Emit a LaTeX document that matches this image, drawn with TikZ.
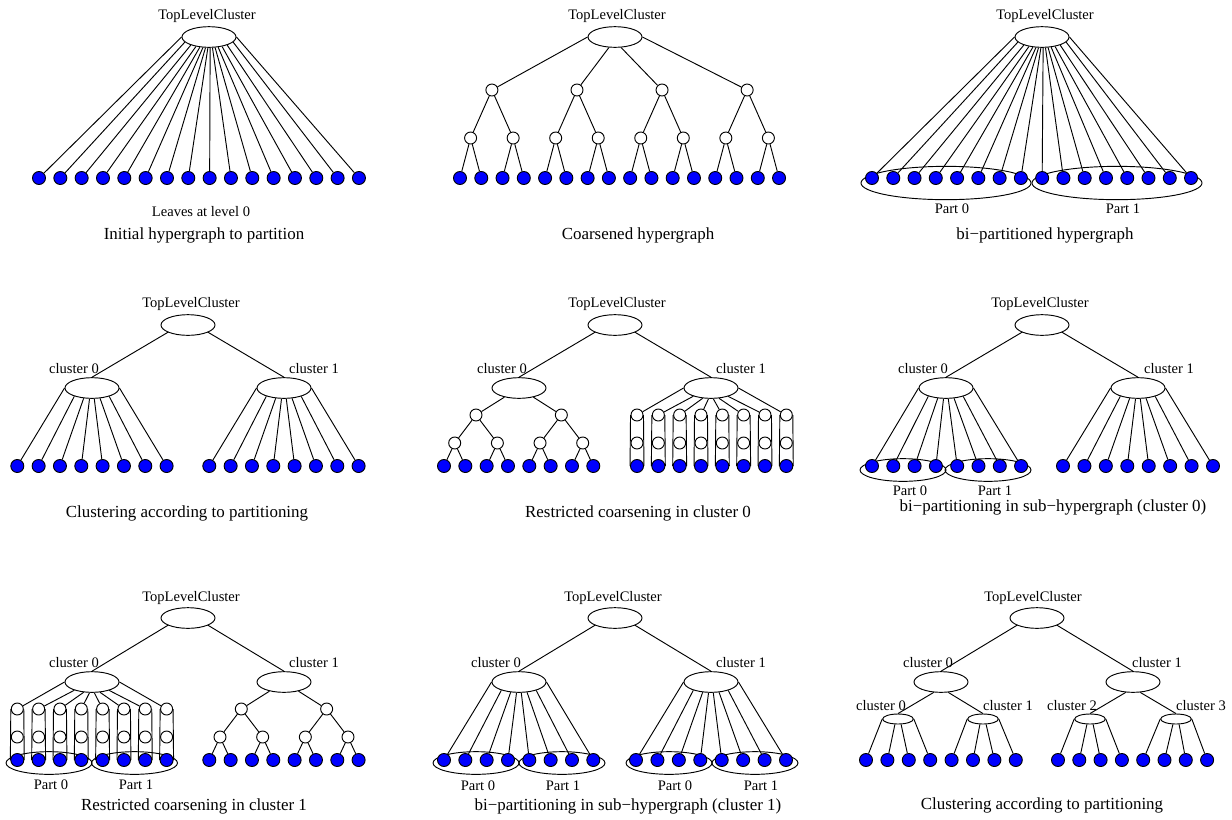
\documentclass[tikz,border=0pt]{standalone}
\usepackage{fontspec}
\setmainfont{Liberation Serif}
\usetikzlibrary{shapes.geometric}
\tikzstyle{every path}=[line width=0.7pt]
\definecolor{leafblue}{RGB}{0,0,255}
\tikzstyle{leaf}=[circle, draw, fill=leafblue, minimum size=9.75pt, inner sep=0pt]
\tikzstyle{coarse}=[circle, draw, fill=white, minimum size=9pt, inner sep=0pt]
\tikzstyle{cluster}=[ellipse, draw, minimum width=40.5pt, minimum height=15.5pt, inner sep=0pt]
\tikzstyle{subcluster}=[ellipse, draw, minimum width=23pt, minimum height=7.5pt, inner sep=0pt]
\tikzstyle{part}=[ellipse, draw, minimum width=64.5pt, minimum height=17pt, inner sep=0pt]
\tikzstyle{bigpart}=[ellipse, draw, minimum width=127.5pt, minimum height=25pt, inner sep=0pt]
\tikzstyle{lbl}=[inner sep=0pt, font=\fontsize{10.9}{12}\selectfont]
\tikzstyle{caption}=[inner sep=0pt, font=\fontsize{12.7}{14}\selectfont]

\begin{document}
\begin{tikzpicture}[x=0.75pt, y=-0.75pt]
    \useasboundingbox (0,0) rectangle (1232,819);

    % initial hypergraph
    \node[lbl] at (207,16) {TopLevelCluster};
    \node[cluster] (a) at (209,37) {};
    \foreach \i in {0,...,15} {
        \pgfmathtruncatemacro\ang{180+12*\i}
        \node[leaf] (a\i) at (39+21.33*\i,178) {};
        \draw (a.\ang) -- (a\i);
    }
    \node[lbl] at (201,212) {Leaves at level 0};
    \node[caption] at (204,235) {Initial hypergraph to partition};

    % coarsened
    \node[lbl] at (617,16) {TopLevelCluster};
    \node[cluster] (b) at (615,37) {};
    \foreach \k in {0,...,3} {
        \pgfmathtruncatemacro\ang{180+60*\k}
        \node[coarse] (bu\k) at (491.9+85.08*\k,90) {};
        \draw (b.\ang) -- (bu\k);
        \foreach \s in {0,1} {
            \pgfmathtruncatemacro\j{2*\k+\s}
            \node[coarse] (bm\j) at (470.6+42.54*\j,138) {};
            \draw (bu\k) -- (bm\j);
            \foreach \t in {0,1} {
                \pgfmathtruncatemacro\i{2*\j+\t}
                \node[leaf] (b\i) at (460+21.27*\i,178) {};
                \draw (bm\j) -- (b\i);
            }
        }
    }
    \node[caption] at (638,235) {Coarsened hypergraph};

    % bi-partitioned
    \node[lbl] at (1045,16) {TopLevelCluster};
    \node[cluster] (c) at (1042,37) {};
    \node[bigpart] (cp0) at (946,183) {};
    \node[bigpart] (cp1) at (1117,183) {};
    \foreach \i in {0,...,15} {
        \pgfmathtruncatemacro\ang{180+12*\i}
        \node[leaf] (c\i) at (872+21.27*\i,178) {};
        \draw (c.\ang) -- (c\i);
    }
    \node[lbl] at (952,209) {Part 0};
    \node[lbl] at (1123,209) {Part 1};
    \node[caption] at (1045,235) {bi−partitioned hypergraph};

    % clustering
    \node[lbl] at (191,304) {TopLevelCluster};
    \node[cluster] (d) at (188,325) {};
    \node[lbl] at (74,369) {cluster 0};
    \node[lbl] at (314,369) {cluster 1};
    \node[cluster] (d0) at (92,388) {};
    \node[cluster] (d1) at (284,388) {};
    \draw (d.200) -- (d0.north);
    \draw (d.340) -- (d1.north);
    \foreach \i in {0,...,7} {
        \pgfmathtruncatemacro\ang{180+180*\i/7}
        \node[leaf] (dl\i) at (17.3+21.33*\i,466) {};
        \node[leaf] (dr\i) at (209.3+21.33*\i,466) {};
        \draw (d0.\ang) -- (dl\i);
        \draw (d1.\ang) -- (dr\i);
    }
    \node[caption] at (187,513) {Clustering according to partitioning};

    % restricted coarsening, cluster 0
    \node[lbl] at (617,304) {TopLevelCluster};
    \node[cluster] (e) at (615,325) {};
    \node[lbl] at (502,369) {cluster 0};
    \node[lbl] at (741,369) {cluster 1};
    \node[cluster] (e0) at (519,388) {};
    \node[cluster] (e1) at (711,388) {};
    \draw (e.200) -- (e0.north);
    \draw (e.340) -- (e1.north);
    \foreach \k in {0,1} {
        \node[coarse] (eu\k) at (476+85.33*\k,415) {};
        \draw (e0) -- (eu\k);
        \foreach \s in {0,1} {
            \pgfmathtruncatemacro\j{2*\k+\s}
            \node[coarse] (em\j) at (454.7+42.67*\j,443) {};
            \draw (eu\k) -- (em\j);
            \foreach \t in {0,1} {
                \pgfmathtruncatemacro\i{2*\j+\t}
                \node[leaf] (el\i) at (444+21.33*\i,466) {};
                \draw (em\j) -- (el\i);
            }
        }
    }
    \foreach \i in {0,...,7} {
        \pgfmathtruncatemacro\ang{180+180*\i/7}
        \node[coarse] (et\i) at (637+21.33*\i,415) {};
        \node[coarse] (ec\i) at (637+21.33*\i,443) {};
        \node[leaf] (er\i) at (637+21.33*\i,466) {};
        \draw (e1.\ang) -- (et\i);
        \draw (et\i.west) -- (er\i.west) (et\i.east) -- (er\i.east);
    }
    \node[caption] at (638,513) {Restricted coarsening in cluster 0};

    % bi-partitioning, cluster 0
    \node[lbl] at (1040,304) {TopLevelCluster};
    \node[cluster] (f) at (1042,325) {};
    \node[lbl] at (923,369) {cluster 0};
    \node[lbl] at (1169,369) {cluster 1};
    \node[cluster] (f0) at (946,388) {};
    \node[cluster] (f1) at (1138,388) {};
    \draw (f.200) -- (f0.north);
    \draw (f.340) -- (f1.north);
    \node[part] (fp0) at (903,470) {};
    \node[part] (fp1) at (988,470) {};
    \foreach \i in {0,...,7} {
        \pgfmathtruncatemacro\ang{180+180*\i/7}
        \node[leaf] (fl\i) at (872+21.3*\i,466) {};
        \node[leaf] (fr\i) at (1063+21.43*\i,466) {};
        \draw (f0.\ang) -- (fl\i);
        \draw (f1.\ang) -- (fr\i);
    }
    \node[lbl] at (910,491) {Part 0};
    \node[lbl] at (995,491) {Part 1};
    \node[caption] at (1053,507) {bi−partitioning in sub−hypergraph (cluster 0)};

    % restricted coarsening, cluster 1
    \node[lbl] at (191,598) {TopLevelCluster};
    \node[cluster] (g) at (188,618) {};
    \node[lbl] at (74,663) {cluster 0};
    \node[lbl] at (314,663) {cluster 1};
    \node[cluster] (g0) at (92,682) {};
    \node[cluster] (g1) at (284,682) {};
    \draw (g.200) -- (g0.north);
    \draw (g.340) -- (g1.north);
    \node[part] (gp0) at (49,763) {};
    \node[part] (gp1) at (134.5,763) {};
    \foreach \i in {0,...,7} {
        \pgfmathtruncatemacro\ang{180+180*\i/7}
        \node[coarse] (gt\i) at (17.3+21.33*\i,709) {};
        \node[coarse] (gc\i) at (17.3+21.33*\i,737) {};
        \node[leaf] (gl\i) at (17.3+21.33*\i,760) {};
        \draw (g0.\ang) -- (gt\i);
        \draw (gt\i.west) -- (gl\i.west) (gt\i.east) -- (gl\i.east);
    }
    \foreach \k in {0,1} {
        \node[coarse] (gu\k) at (241.3+85.33*\k,709) {};
        \draw (g1) -- (gu\k);
        \foreach \s in {0,1} {
            \pgfmathtruncatemacro\j{2*\k+\s}
            \node[coarse] (gm\j) at (220+42.67*\j,737) {};
            \draw (gu\k) -- (gm\j);
            \foreach \t in {0,1} {
                \pgfmathtruncatemacro\i{2*\j+\t}
                \node[leaf] (gr\i) at (209.3+21.33*\i,760) {};
                \draw (gm\j) -- (gr\i);
            }
        }
    }
    \node[lbl] at (51,785) {Part 0};
    \node[lbl] at (136,785) {Part 1};
    \node[caption] at (194,806) {Restricted coarsening in cluster 1};

    % bi-partitioning, cluster 1
    \node[lbl] at (613,598) {TopLevelCluster};
    \node[cluster] (h) at (615,618) {};
    \node[lbl] at (496,663) {cluster 0};
    \node[lbl] at (741,663) {cluster 1};
    \node[cluster] (h0) at (519,682) {};
    \node[cluster] (h1) at (711,682) {};
    \draw (h.200) -- (h0.north);
    \draw (h.340) -- (h1.north);
    \node[part] (hp0) at (476,763) {};
    \node[part] (hp1) at (562,763) {};
    \node[part] (hp2) at (669,763) {};
    \node[part] (hp3) at (755,763) {};
    \foreach \i in {0,...,7} {
        \pgfmathtruncatemacro\ang{180+180*\i/7}
        \node[leaf] (hl\i) at (444+21.33*\i,760) {};
        \node[leaf] (hr\i) at (636+21.43*\i,760) {};
        \draw (h0.\ang) -- (hl\i);
        \draw (h1.\ang) -- (hr\i);
    }
    \node[lbl] at (478,786) {Part 0};
    \node[lbl] at (563,786) {Part 1};
    \node[lbl] at (675,786) {Part 0};
    \node[lbl] at (761,786) {Part 1};
    \node[caption] at (628,806) {bi−partitioning in sub−hypergraph (cluster 1)};

    % final clustering
    \node[lbl] at (1033,598) {TopLevelCluster};
    \node[cluster] (k) at (1037,618) {};
    \node[lbl] at (928,663) {cluster 0};
    \node[lbl] at (1157,663) {cluster 1};
    \node[cluster] (k0) at (941,682) {};
    \node[cluster] (k1) at (1133,682) {};
    \draw (k.200) -- (k0.north);
    \draw (k.340) -- (k1.north);
    \node[lbl] at (881,706) {cluster 0};
    \node[lbl] at (1008,706) {cluster 1};
    \node[lbl] at (1072,706) {cluster 2};
    \node[lbl] at (1201,706) {cluster 3};
    \node[subcluster] (ks0) at (898,719) {};
    \node[subcluster] (ks1) at (983,719) {};
    \node[subcluster] (ks2) at (1090,719) {};
    \node[subcluster] (ks3) at (1176,719) {};
    \draw (k0.235) -- (ks0.north);
    \draw (k0.305) -- (ks1.north);
    \draw (k1.235) -- (ks2.north);
    \draw (k1.305) -- (ks3.north);
    \foreach \i in {0,...,7} {
        \pgfmathtruncatemacro\p{\i/4}
        \pgfmathtruncatemacro\q{\i/4+2}
        \pgfmathtruncatemacro\ang{180+60*mod(\i,4)}
        \node[leaf] (kl\i) at (866+21.4*\i,760) {};
        \node[leaf] (kr\i) at (1058+21.3*\i,760) {};
        \draw (ks\p.\ang) -- (kl\i);
        \draw (ks\q.\ang) -- (kr\i);
    }
    \node[caption] at (1042,805) {Clustering according to partitioning};
\end{tikzpicture}
\end{document}
